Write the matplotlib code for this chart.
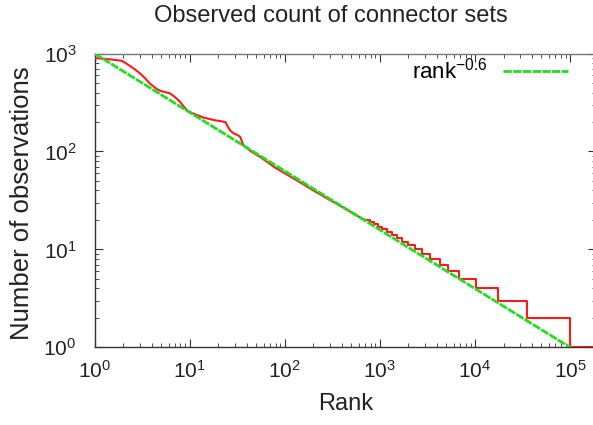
import matplotlib
matplotlib.use("Agg")
import matplotlib.pyplot as plt
import numpy as np
from matplotlib.ticker import LogLocator, NullFormatter

plt.rcParams['font.family'] = ['Liberation Sans', 'DejaVu Sans']
plt.rcParams['mathtext.fontset'] = 'custom'
plt.rcParams['mathtext.rm'] = 'Liberation Sans'
plt.rcParams['mathtext.default'] = 'regular'

# Observed counts (head of the distribution, smooth part)
head_rank = [1, 1.5, 1.93, 2.2, 2.6, 3.0, 3.4, 3.8, 4.3, 4.7, 5.2, 5.7, 6.2, 7.0, 7.9, 9.3,
             10.5, 11.9, 14, 16.4, 19, 22, 24, 25.5, 27, 29, 32, 34, 36.7, 40, 45, 55,
             60, 80, 100, 150, 200, 300, 400, 500, 600, 700]
head_count = [900, 870, 843, 782, 700, 628, 560, 496, 450, 424, 410, 401, 392, 360, 322, 265,
              248, 236, 222, 214, 207, 203, 198, 175, 162, 153, 147, 141, 116, 108, 99, 88,
              83, 68, 60, 47.5, 40, 31.8, 27.2, 24, 21.6, 20]

# Observed counts (tail: integer levels, rank at which each level begins)
tail_level = [20, 19, 18, 17, 16, 15, 14, 13, 12, 11, 10, 9, 8, 7, 6, 5, 4, 3, 2, 1, 1]
tail_start = [720, 790, 860, 950, 1060, 1180, 1330, 1500, 1720, 2000, 2350, 2800, 3400,
              4300, 5250, 6800, 10250, 17600, 35000, 100000, 300000]

# Power-law reference: rank^-0.6 (scaled to 1000 at rank 1)
fit_exponent = -0.6
fit_scale = 1000

fig = plt.figure(figsize=(5.93, 4.25), dpi=100)
ax = fig.add_axes([0.1594, 0.1828, 1.005 - 0.1594, 0.874 - 0.1828])

ax.plot(head_rank, head_count, color='#ff1a1a', lw=1.5, zorder=3)
ax.step(tail_start, tail_level, where='post', color='#ff1a1a', lw=1.5, zorder=3)

fx = np.logspace(0, 5.3, 200)
fy = fit_scale * fx ** fit_exponent
ax.plot(fx, fy, color='#22dd22', lw=2.0, linestyle=(0, (3.0, 0.5)), zorder=4,
        label='rank$^{-0.6}$')

ax.set_xscale('log')
ax.set_yscale('log')
ax.set_xlim(1, 10 ** 5.273)
ax.set_ylim(1, 1000)

ax.xaxis.set_major_locator(LogLocator(base=10, numticks=10))
ax.yaxis.set_major_locator(LogLocator(base=10, numticks=10))
ax.xaxis.set_minor_locator(LogLocator(base=10, subs=np.arange(2, 10), numticks=20))
ax.yaxis.set_minor_locator(LogLocator(base=10, subs=np.arange(2, 10), numticks=20))
ax.xaxis.set_minor_formatter(NullFormatter())
ax.yaxis.set_minor_formatter(NullFormatter())

ax.tick_params(which='both', direction='in', top=True, right=True, colors='#333333',
               labelcolor='#222222')
ax.tick_params(which='major', length=6, width=0.8, labelsize=15)
ax.tick_params(axis='y', which='major', pad=13)
ax.tick_params(axis='x', which='major', pad=9)
ax.tick_params(which='minor', length=3, width=0.6)
for s in ax.spines.values():
    s.set_color('#333333')
    s.set_linewidth(1.0)
ax.spines['top'].set_color('#777777')

fig.text(331 / 593, 1 - 16 / 425, 'Observed count of connector sets', fontsize=17,
         color='#222222', ha='center', va='center')
ax.set_xlabel('Rank', fontsize=17, color='#222222', labelpad=8)
ax.set_ylabel('Number of observations', fontsize=18.5, color='#222222')
ax.yaxis.set_label_coords(22 / 593, 1 - 203 / 425, transform=fig.transFigure)
ax.yaxis.label.set_va('center')

leg = ax.legend(loc='upper right', bbox_to_anchor=(0.97, 1.03), frameon=False,
                markerfirst=False, fontsize=16, handlelength=2.9, handletextpad=0.7,
                borderaxespad=0.2)

fig.savefig('out.png', dpi=100)
